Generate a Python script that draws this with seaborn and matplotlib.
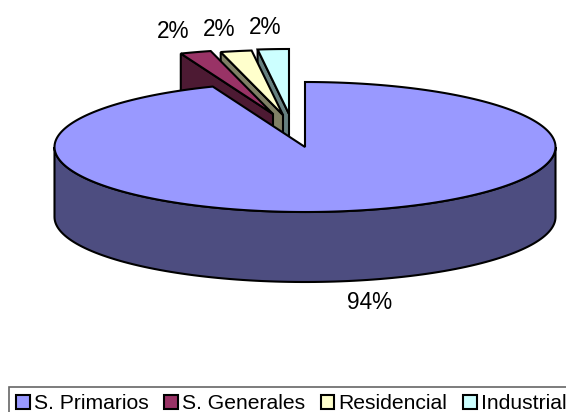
import numpy as np
import matplotlib
matplotlib.use("Agg")
import matplotlib.pyplot as plt
from matplotlib.patches import Polygon, Patch
import seaborn as sns

categories = ["S. Primarios", "S. Generales", "Residencial", "Industrial"]
shares = [94, 2, 2, 2]
share_labels = ["94%", "2%", "2%", "2%"]
top_colors = ["#9999FF", "#993366", "#FFFFCC", "#CCFFFF"]
side_colors = ["#4D4D80", "#4D1A33", "#808066", "#668080"]

# layout (pixels of the figure)
CX, CY, RX, RY, DEPTH = 305.0, 147.0, 250.5, 65.0, 70.0
slice_offsets = [(0, 0), (-32, -33), (-22, -32), (-16, -33)]
label_pos = [(370, 302.5), (173, 31), (219.5, 29), (265.5, 27.5)]
LW = 1.5
LABEL_FONT = 16.3
LEGEND_FONT = 15.2

sns.set_theme(style="white", palette=sns.color_palette(top_colors))
plt.rcParams["font.family"] = ["Liberation Sans", "DejaVu Sans"]

fig = plt.figure(figsize=(5.66, 4.12), dpi=100)
ax = fig.add_axes([0, 0, 1, 1])
ax.set_xlim(0, 566)
ax.set_ylim(412, 0)
ax.axis("off")


def pt(deg, ox=0.0, oy=0.0, dz=0.0):
    a = np.radians(deg)
    return np.column_stack([CX + ox + RX * np.cos(a), CY + oy - RY * np.sin(a) + dz])


def poly(points, color, z):
    ax.add_patch(Polygon(points, closed=True, facecolor=color, edgecolor="black",
                         linewidth=LW, joinstyle="miter", zorder=z))


# clockwise angle limits from the values, starting at 12 o'clock
frac = np.cumsum([0] + shares) / sum(shares)
starts = 90 - 360 * frac[:-1]
ends = 90 - 360 * frac[1:]

# exploded slices, drawn from the last one back to the first
z = 1
for i in [3, 2, 1]:
    ox, oy = slice_offsets[i]
    arc = np.linspace(starts[i], ends[i], 20) + 360
    apex = np.array([[CX + ox, CY + oy]])
    apex_low = apex + [0, DEPTH]
    outer = pt(arc[:1], ox, oy)
    outer_low = pt(arc[:1], ox, oy, DEPTH)
    poly(np.vstack([apex, outer, outer_low, apex_low]), side_colors[i], z)
    poly(np.vstack([apex, pt(arc, ox, oy)]), top_colors[i], z + 1)
    z += 2

# main slice
theta = np.linspace(0, -180, 120)
poly(np.vstack([pt(theta), pt(theta[::-1], dz=DEPTH)]), side_colors[0], z)
arc = np.linspace(starts[0], ends[0], 400)
poly(np.vstack([[[CX, CY]], pt(arc)]), top_colors[0], z + 1)

for (x, y), s in zip(label_pos, share_labels):
    ax.text(x, y, s, fontsize=LABEL_FONT, color="black", ha="center", va="center", zorder=20)

handles = [Patch(facecolor=c, edgecolor="black", linewidth=LW) for c in top_colors]
leg = ax.legend(handles, categories, ncol=4, loc="lower left",
                bbox_to_anchor=(9, 420), bbox_transform=ax.transData,
                fontsize=LEGEND_FONT, frameon=True, fancybox=False, framealpha=1,
                edgecolor="#666666", borderpad=0.33, borderaxespad=0,
                handlelength=0.66, handleheight=0.66, handletextpad=0.2,
                columnspacing=0.72, labelcolor="black")
leg.get_frame().set_linewidth(1.2)

fig.savefig("out.png", dpi=100)
